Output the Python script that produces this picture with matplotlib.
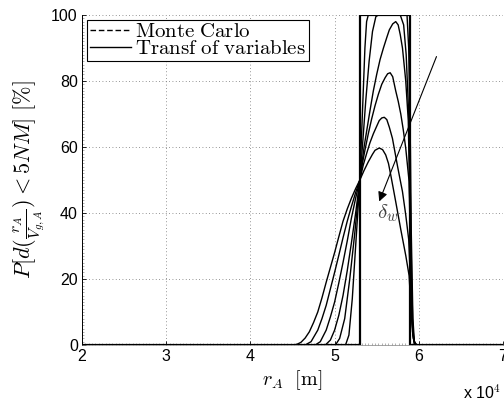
import matplotlib
matplotlib.use("Agg")
import matplotlib.pyplot as plt
from matplotlib.lines import Line2D
from matplotlib.ticker import MultipleLocator

plt.rcParams['mathtext.fontset'] = 'cm'
plt.rcParams['font.family'] = ['Liberation Sans', 'DejaVu Sans']

# ---- data (x in units of 1e4 m, y in %) ----
mc_x = [2.0, 5.3, 5.3, 5.9, 5.9, 7.0]
mc_y = [0, 0, 100, 100, 0, 0]

c1_x = [2.0, 5.13, 5.17, 5.21, 5.25, 5.30, 5.33, 5.36, 5.38, 5.40, 5.86, 5.88, 5.90, 5.91, 5.93, 5.95, 7.0]
c1_y = [0, 0, 3, 14, 30, 50, 70, 90, 98, 100, 100, 90, 60, 35, 8, 0, 0]

c2_x = [2.0, 5.01, 5.06, 5.12, 5.18, 5.24, 5.30, 5.33, 5.37, 5.41, 5.45, 5.49, 5.52, 5.78, 5.82, 5.85,
        5.88, 5.90, 5.915, 5.93, 5.95, 7.0]
c2_y = [0, 0, 2, 8, 20, 34, 50, 60, 74, 86, 95, 99.5, 100, 100, 97, 88, 70, 45, 20, 5, 0, 0]

c3_x = [2.0, 4.89, 4.95, 5.00, 5.05, 5.10, 5.15, 5.20, 5.25, 5.30, 5.35, 5.42, 5.46, 5.50, 5.54, 5.58,
        5.62, 5.65, 5.69, 5.726, 5.755, 5.78, 5.806, 5.845, 5.875, 5.895, 5.91, 5.93, 5.95, 7.0]
c3_y = [0, 0, 1.5, 4.5, 9, 15, 22.5, 31, 40, 50, 60, 71, 77, 82, 86.5, 90, 93.2, 95.5, 97.3, 98, 97,
        94, 90, 80, 68, 40, 15, 3, 0, 0]

c4_x = [2.0, 4.77, 4.83, 4.90, 4.95, 5.00, 5.05, 5.10, 5.15, 5.20, 5.25, 5.30, 5.33, 5.36, 5.40, 5.44,
        5.48, 5.52, 5.56, 5.60, 5.63, 5.66, 5.69, 5.726, 5.756, 5.786, 5.815, 5.845, 5.885, 5.90, 5.915,
        5.935, 5.96, 7.0]
c4_y = [0, 0, 1, 4.5, 8.5, 13, 18.8, 25, 31.5, 38.5, 44.5, 50, 55, 59, 64, 68.5, 72.5, 76, 79, 81,
        82.2, 82.5, 81.3, 77, 73.8, 70, 65.3, 59.6, 49.5, 30, 12, 2, 0, 0]

c5_x = [2.0, 4.65, 4.72, 4.80, 4.85, 4.90, 4.95, 5.00, 5.05, 5.10, 5.15, 5.20, 5.25, 5.30, 5.34, 5.38,
        5.42, 5.46, 5.50, 5.53, 5.56, 5.59, 5.62, 5.65, 5.687, 5.715, 5.745, 5.776, 5.806, 5.845, 5.88,
        5.90, 5.92, 5.94, 5.97, 7.0]
c5_y = [0, 0, 1, 4.5, 8, 12, 17, 22, 27.2, 32.5, 37.5, 42, 46.2, 50, 54.5, 58, 61.3, 64, 66.3, 68,
        68.8, 69, 68.3, 66, 62.6, 58.7, 54.5, 50.4, 46.5, 39.4, 32, 20, 7, 1.5, 0, 0]

c6_x = [2.0, 4.52, 4.56, 4.60, 4.65, 4.70, 4.75, 4.80, 4.85, 4.90, 4.95, 5.00, 5.05, 5.10, 5.15, 5.20,
        5.25, 5.30, 5.35, 5.40, 5.45, 5.48, 5.53, 5.57, 5.607, 5.64, 5.667, 5.70, 5.726, 5.756, 5.786,
        5.816, 5.846, 5.885, 5.905, 5.925, 5.95, 5.98, 7.0]
c6_y = [0, 0, 0.3, 0.8, 2.1, 4, 6.8, 10, 14.3, 19, 23.5, 28, 32.8, 37.5, 41.2, 44.5, 47.4, 50, 52.9,
        55.5, 57.8, 59, 59.7, 59.2, 57.6, 55, 51.5, 47, 43.4, 39.2, 35, 31, 27, 21, 12, 4, 0.8, 0, 0]

curves_x = [c1_x, c2_x, c3_x, c4_x, c5_x, c6_x]
curves_y = [c1_y, c2_y, c3_y, c4_y, c5_y, c6_y]

x_ticks = [2, 3, 4, 5, 6, 7]
y_ticks = [0, 20, 40, 60, 80, 100]
legend_labels = [r'$\mathrm{Monte\ Carlo}$', r'$\mathrm{Transf\ of\ variables}$']
arrow_start = (6.21, 87.4)
arrow_end = (5.53, 43.5)

# ---- figure ----
fig = plt.figure(figsize=(5.04, 3.98), dpi=100)
ax = fig.add_axes([82 / 504, 1 - 345 / 398, 421 / 504, 330 / 398])

ax.plot(mc_x, mc_y, color='black', lw=1.6, solid_joinstyle='miter', zorder=3)
for cx, cy in zip(curves_x, curves_y):
    ax.plot(cx, cy, color='black', lw=1.0, zorder=3)

ax.set_xlim(2, 7)
ax.set_ylim(0, 100)
ax.set_xticks(x_ticks)
ax.set_xticklabels([str(t) for t in x_ticks])
ax.set_yticks(y_ticks)
ax.set_yticklabels([str(t) for t in y_ticks])
ax.xaxis.set_minor_locator(MultipleLocator(0.04))
ax.yaxis.set_minor_locator(MultipleLocator(1))
ax.tick_params(which='major', direction='in', length=3, width=0.6, labelsize=11.5, pad=3)
ax.tick_params(which='minor', direction='in', length=1.2, width=0.4, color='0.45')
ax.tick_params(axis='x', which='both', top=False)
ax.tick_params(axis='y', which='both', right=False)

for s in ['top', 'right']:
    ax.spines[s].set_visible(False)
ax.spines['left'].set_linewidth(0.7)
ax.spines['bottom'].set_linewidth(0.5)
ax.spines['bottom'].set_color('0.5')

ax.grid(True, which='major', linestyle=(0, (1, 3)), color='0.45', lw=0.6)
ax.set_axisbelow(True)

ax.set_xlabel(r'$r_A\ \ [\mathrm{m}]$', fontsize=14.5, labelpad=3)
ax.set_ylabel(r'$P[d(\frac{r_A}{V_{g,A}})<5NM]\ [\%]$', fontsize=16, labelpad=3)
fig.text(501 / 504, 1 - 392 / 398, r'x 10$^4$', ha='right', va='center', fontsize=11.5)

ax.annotate('', xy=arrow_end, xytext=arrow_start,
            arrowprops=dict(arrowstyle='-|>', color='black', lw=0.8,
                            mutation_scale=14, shrinkA=0, shrinkB=0), zorder=5)
ax.text(5.63, 40.0, r'$\delta_w$', fontsize=15, color='0.25', ha='center', va='center', zorder=5)

handles = [Line2D([], [], color='black', lw=1.0, linestyle=(0, (4, 2))),
           Line2D([], [], color='black', lw=1.0)]
leg = ax.legend(handles, legend_labels, loc='upper left', bbox_to_anchor=(0.012, 0.985),
                fontsize=15, frameon=True, fancybox=False, edgecolor='black',
                framealpha=1, borderpad=0.12, labelspacing=-0.1, handlelength=2.0,
                handletextpad=0.2, borderaxespad=0)
leg.get_frame().set_linewidth(0.8)

fig.savefig('out.png', dpi=100)
